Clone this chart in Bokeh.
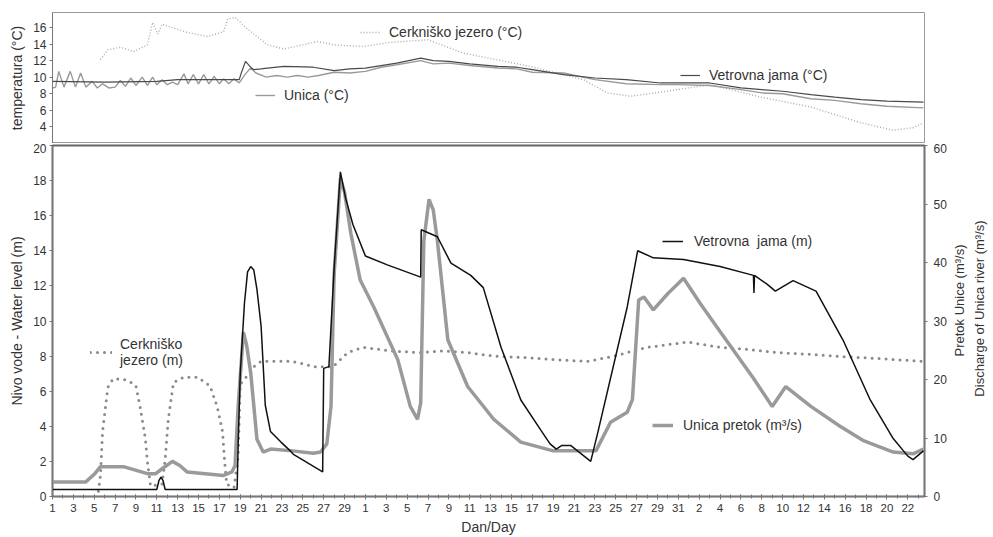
import math
from bokeh.plotting import figure
from bokeh.layouts import column, row
from bokeh.models import Range1d, LinearAxis, FixedTicker, Legend, LegendItem, Label
from bokeh.embed import file_html
from bokeh.resources import INLINE

# ---------------- data (x = day index from the first day shown) ----------------
x_tick_pos = list(range(0, 83, 2))
x_tick_labels = ["1", "3", "5", "7", "9", "11", "13", "15", "17", "19", "21", "23", "25", "27", "29",
                 "1", "3", "5", "7", "9", "11", "13", "15", "17", "19", "21", "23", "25", "27", "29", "31",
                 "2", "4", "6", "8", "10", "12", "14", "16", "18", "20", "22"]

# Vetrovna jama water level (m)
vj_day = [0, 10.0, 10.2, 10.4, 10.6, 10.8, 17.7, 17.8, 18.0, 18.4, 18.7, 19.0, 19.3, 19.6, 20.0, 20.4,
          20.9, 21.9, 22.8, 23.1, 25.9, 26.0, 26.5, 27.0, 27.6, 28.1, 28.8, 30.0, 32.1, 35.3, 35.35,
          36.9, 38.2, 40.1, 41.3, 43.0, 44.9, 46.8, 47.7, 48.3, 48.8, 49.7, 51.6, 52.3, 55.1, 56.1,
          57.6, 60.5, 64.0, 67.2, 67.25, 67.3, 68.5, 69.3, 71.0, 73.2, 75.8, 78.4, 80.6, 82.0, 82.5, 83.5]
vj_level = [0.4, 0.4, 0.9, 1.1, 0.9, 0.4, 0.4, 3.0, 7.0, 11.0, 12.8, 13.1, 12.9, 11.8, 9.7, 5.2,
            3.7, 3.1, 2.6, 2.4, 1.4, 7.3, 7.4, 13.0, 18.5, 17.0, 15.5, 13.7, 13.2, 12.5, 15.2,
            14.8, 13.3, 12.6, 11.9, 8.5, 5.5, 3.8, 3.0, 2.7, 2.9, 2.9, 2.0, 3.7, 10.8, 14.0,
            13.6, 13.5, 13.1, 12.6, 11.6, 12.6, 12.1, 11.7, 12.3, 11.7, 8.9, 5.5, 3.3, 2.3, 2.1, 2.6]

# Unica discharge (m3/s)
uq_day = [0, 3.2, 4.0, 4.6, 6.8, 9.1, 9.9, 10.7, 11.5, 12.2, 12.9, 16.4, 17.2, 17.5, 17.8, 18.3, 18.6,
          19.0, 19.6, 20.2, 20.9, 23.0, 25.0, 25.7, 26.3, 26.7, 27.0, 27.6, 28.0, 28.6, 29.5, 30.8,
          33.1, 34.3, 35.0, 35.3, 35.6, 36.1, 36.5, 36.9, 37.9, 39.8, 42.3, 44.9, 48.0, 52.1, 53.5,
          55.1, 55.6, 56.2, 56.7, 57.6, 59.0, 60.5, 62.1, 64.0, 67.2, 69.0, 70.3, 72.7, 75.5, 77.8,
          80.6, 82.5, 83.5]
uq_flow = [2.5, 2.5, 3.8, 5.1, 5.1, 3.9, 3.9, 5.0, 6.0, 5.3, 4.2, 3.6, 4.2, 5.3, 15.4, 28.1, 26.0,
           21.2, 9.8, 7.6, 8.1, 7.8, 7.4, 7.6, 9.0, 15.4, 38.0, 54.4, 52.0, 45.0, 37.0, 32.4,
           23.4, 15.4, 13.2, 16.0, 43.7, 50.8, 49.0, 43.7, 26.8, 18.8, 13.2, 9.3, 7.8, 7.8, 12.7,
           14.4, 16.6, 33.6, 34.1, 31.9, 34.7, 37.3, 33.0, 28.2, 20.2, 15.4, 18.8, 15.4, 12.0, 9.5,
           7.6, 7.3, 8.1]

# Cerknisko jezero water level (m)
cj_day = [4.4, 4.6, 4.8, 5.3, 5.8, 6.5, 7.3, 8.0, 8.4, 8.9, 9.1, 9.4, 10.5, 10.8, 11.1, 11.6, 12.6,
          13.9, 15.1, 15.8, 16.3, 16.5, 16.7, 17.4, 17.8, 18.0, 18.7, 19.3, 20.0, 22.8, 23.8, 25.0,
          26.9, 28.3, 29.8, 32.4, 35.0, 37.5, 39.8, 42.3, 45.8, 48.0, 51.3, 53.8, 57.0, 60.9, 64.0,
          66.3, 69.5, 72.7, 74.9, 78.1, 83.5]
cj_level = [0.3, 1.2, 3.7, 6.2, 6.7, 6.7, 6.6, 6.3, 5.1, 3.3, 2.0, 0.6, 0.7, 2.1, 4.4, 6.5, 6.8,
            6.8, 6.3, 5.1, 3.7, 2.0, 0.7, 0.5, 2.3, 6.4, 6.9, 7.4, 7.7, 7.7, 7.6, 7.4,
            7.4, 8.2, 8.5, 8.3, 8.2, 8.3, 8.2, 8.0, 7.9, 7.8, 7.7, 8.0, 8.5, 8.8, 8.5,
            8.4, 8.2, 8.1, 8.0, 7.9, 7.7]

# Temperatures (deg C)
ct_day = [4.6, 5.3, 6.5, 7.8, 9.1, 9.6, 10.1, 10.5, 12.9, 14.9, 16.4, 16.8, 17.5, 18.7, 20.6, 22.2,
          25.4, 27.0, 29.8, 32.4, 36.0, 39.4, 45.8, 50.9, 53.2, 55.4, 58.3, 63.1, 67.9, 72.7, 77.5,
          80.6, 82.5, 83.5]
ct_temp = [12.1, 13.3, 13.6, 13.1, 13.9, 16.6, 15.2, 16.4, 15.4, 14.9, 15.5, 17.0, 17.2, 15.8, 13.9, 13.4,
           14.3, 13.9, 13.7, 14.2, 14.5, 12.9, 11.3, 9.7, 8.1, 7.7, 8.2, 9.1, 7.6, 6.4, 4.5,
           3.6, 3.9, 4.5]

ut_day = [0, 0.3, 0.6, 1.1, 1.7, 2.2, 2.7, 3.2, 3.8, 4.3, 4.8, 5.4, 6.0, 6.5, 7.0, 7.5, 8.0, 8.6,
          9.1, 9.6, 10.0, 10.5, 11.0, 11.5, 12.0, 12.6, 13.0, 13.5, 14.0, 14.5, 15.0, 15.5, 16.0,
          16.4, 16.9, 17.4, 17.9, 18.5, 19.0, 19.5, 20.5, 21.5, 22.5, 23.5, 24.5, 25.5, 27.0, 28.5,
          30.0, 31.5, 33.0, 35.3, 36.5, 38.0, 40.0, 42.7, 44.5, 46.0, 49.0, 52.0, 55.0, 58.3, 60.0,
          63.0, 66.0, 68.0, 70.0, 72.7, 75.0, 77.5, 80.0, 83.5]
ut_temp = [8.7, 8.8, 10.7, 8.8, 10.7, 8.8, 10.5, 8.8, 9.5, 8.7, 9.2, 8.7, 8.8, 9.6, 8.9, 9.9, 9.0, 10.0,
           9.0, 10.0, 9.1, 9.7, 9.1, 9.4, 9.1, 10.4, 9.2, 10.3, 9.2, 10.3, 9.2, 10.1, 9.2,
           9.8, 9.2, 9.8, 9.3, 10.4, 11.1, 10.5, 10.0, 10.2, 10.0, 10.2, 10.0, 10.2, 10.6, 10.5,
           10.7, 11.2, 11.5, 12.0, 11.6, 11.7, 11.4, 11.1, 11.0, 10.6, 10.5, 9.7, 9.2, 9.1, 9.1,
           9.0, 8.5, 8.1, 8.0, 7.4, 7.2, 6.8, 6.5, 6.3]

vt_day = [0, 5.0, 10.0, 12.0, 17.9, 18.1, 18.5, 19.0, 19.3, 20.0, 20.6, 22.2, 25.0, 27.0, 28.5, 30.0,
          31.5, 33.0, 35.3, 36.5, 38.0, 40.0, 42.7, 44.5, 46.0, 49.0, 52.0, 55.0, 58.3, 60.0, 63.0,
          66.0, 68.0, 70.0, 72.7, 75.0, 77.5, 80.0, 83.5]
vt_temp = [9.5, 9.4, 9.5, 9.7, 9.7, 10.5, 11.9, 11.2, 10.9, 11.0, 11.1, 11.3, 11.2, 10.8, 11.0, 11.1,
           11.4, 11.7, 12.3, 12.0, 11.9, 11.6, 11.3, 11.2, 10.9, 10.3, 9.9, 9.7, 9.3, 9.3, 9.3,
           8.7, 8.5, 8.3, 7.9, 7.6, 7.3, 7.1, 7.0]

right_title_1 = "Pretok Unice (m³/s)"
right_title_2 = "Discharge of Unica river (m³/s)"

# ---------------- styling ----------------
FONT = "Liberation Sans"
TXT = "#333333"
W = 950          # width of the two chart panels
RW = 43          # width of the strip holding the right-hand axis title
H_TOP, H_BOT = 143, 394
LB, RB = 52, 26

def style_axis(ax, size="12px", label_size="14px"):
    ax.major_label_text_font = FONT
    ax.major_label_text_font_size = size
    ax.major_label_text_color = TXT
    ax.axis_label_text_font = FONT
    ax.axis_label_text_font_size = label_size
    ax.axis_label_text_font_style = "normal"
    ax.axis_label_text_color = TXT
    ax.axis_line_color = "#777777"
    ax.major_tick_line_color = "#777777"
    ax.minor_tick_line_color = None

x_range = Range1d(0, 83.6)

# ---------------- top panel: temperatures ----------------
top = figure(width=W, height=H_TOP, x_range=x_range, y_range=Range1d(2.0, 17.8),
             output_backend="svg", toolbar_location=None,
             min_border_left=LB, min_border_right=RB, min_border_top=12, min_border_bottom=0)
top.xaxis.visible = False
top.grid.visible = False
top.outline_line_color = "#999999"
top.yaxis.ticker = FixedTicker(ticks=[4, 6, 8, 10, 12, 14, 16])
top.yaxis.axis_label = "temperatura (°C)"
style_axis(top.yaxis[0])
top.yaxis.major_tick_out = 3
top.yaxis.major_tick_in = 0
top.yaxis.major_label_standoff = 3
top.yaxis.axis_label_standoff = 5

r_ct = top.line(ct_day, ct_temp, line_color="#aaaaaa", line_width=1.4, line_dash="1 2")
r_ut = top.line(ut_day, ut_temp, line_color="#9a9a9a", line_width=1.4)
r_vt = top.line(vt_day, vt_temp, line_color="#4a4a4a", line_width=1.2)

def add_key(fig, label, renderer, loc, gw=20, standoff=9, size="14px"):
    lg = Legend(items=[LegendItem(label=label, renderers=[renderer])], location=loc,
                padding=0, margin=0, spacing=0, glyph_width=gw, glyph_height=16,
                label_standoff=standoff, label_height=16,
                label_text_font=FONT, label_text_font_size=size, label_text_color=TXT,
                border_line_color=None, background_fill_alpha=0)
    fig.add_layout(lg, "center")

add_key(top, "Cerkniško jezero (°C)", r_ct, (308, 103))
add_key(top, "Unica (°C)", r_ut, (203, 40))
add_key(top, "Vetrovna jama (°C)", r_vt, (628, 60))

# ---------------- bottom panel: water levels and discharge ----------------
bot = figure(width=W, height=H_BOT, x_range=x_range, y_range=Range1d(0, 20),
             output_backend="svg", toolbar_location=None,
             min_border_left=LB, min_border_right=RB, min_border_top=2)
bot.extra_y_ranges = {"q": Range1d(0, 60)}
bot.grid.visible = False
bot.outline_line_color = "#666666"
bot.outline_line_width = 2

bot.yaxis.ticker = FixedTicker(ticks=list(range(0, 21, 2)))
bot.yaxis.axis_label = "Nivo vode - Water level (m)"
style_axis(bot.yaxis[0])
bot.yaxis.major_tick_out = 3
bot.yaxis.major_tick_in = 0
bot.yaxis.major_label_standoff = 3
bot.yaxis.axis_label_standoff = 5

bot.xaxis.ticker = FixedTicker(ticks=x_tick_pos, minor_ticks=list(range(0, 84)))
bot.xaxis.major_label_overrides = {p: l for p, l in zip(x_tick_pos, x_tick_labels)}
bot.xaxis.axis_label = "Dan/Day"
style_axis(bot.xaxis[0], size="11.5px")
bot.xaxis.minor_tick_line_color = "#777777"
bot.xaxis.major_tick_out = 3
bot.xaxis.major_tick_in = 2
bot.xaxis.minor_tick_out = 2
bot.xaxis.minor_tick_in = 2
bot.xaxis.major_label_standoff = 4
bot.xaxis.axis_label_standoff = 4

rax = LinearAxis(y_range_name="q", ticker=FixedTicker(ticks=[0, 10, 20, 30, 40, 50, 60]))
style_axis(rax)
rax.major_tick_out = 3
rax.major_tick_in = 0
rax.major_label_standoff = 6
bot.add_layout(rax, "right")

r_cj = bot.line(cj_day, cj_level, line_color="#8a8a8a", line_width=3, line_dash="0 7",
                line_cap="round")
r_uq = bot.line(uq_day, uq_flow, y_range_name="q", line_color="#9a9a9a", line_width=3.5)
r_vj = bot.line(vj_day, vj_level, line_color="#111111", line_width=1.5)

add_key(bot, "Cerkniško\njezero (m)", r_cj, (38, 128), gw=22, standoff=8)
add_key(bot, "Vetrovna  jama (m)", r_vj, (610, 247), gw=21, standoff=11)
add_key(bot, "Unica pretok (m³/s)", r_uq, (600, 63), gw=21, standoff=10)

# ---------------- strip with the right-hand axis title (reads bottom-to-top) ----------------
H = H_TOP + H_BOT
rt = figure(width=RW, height=H, x_range=Range1d(0, RW), y_range=Range1d(0, H),
            output_backend="svg", toolbar_location=None,
            min_border=0, min_border_left=0, min_border_right=0,
            min_border_top=0, min_border_bottom=0)
rt.axis.visible = False
rt.grid.visible = False
rt.outline_line_color = None
for txt, xs, ys in [(right_title_1, 9, 237), (right_title_2, 29, 229)]:
    rt.add_layout(Label(x=xs, y=ys, text=txt, angle=math.pi / 2, text_align="center",
                        text_baseline="middle", text_font=FONT, text_font_size="13px",
                        text_color=TXT))

layout = row(column(top, bot, spacing=0), rt, spacing=0)
open("out.html", "w").write(file_html(layout, INLINE))
